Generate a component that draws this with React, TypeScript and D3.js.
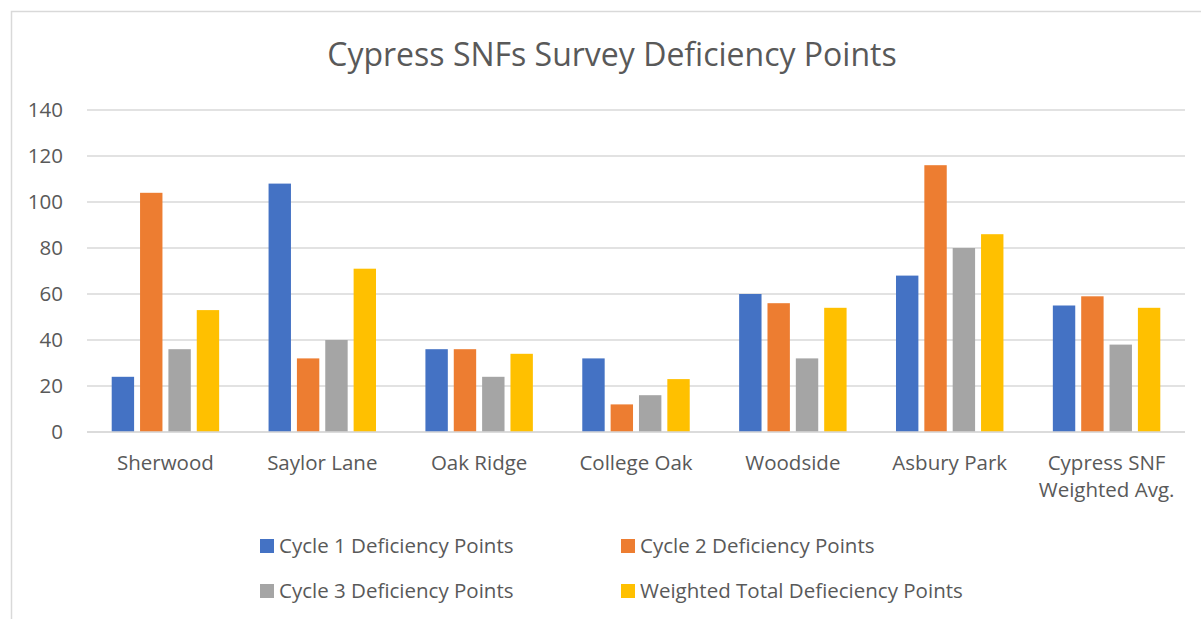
import React, { useEffect, useRef } from 'react';
import * as d3 from 'd3';

const facilities = ['Sherwood', 'Saylor Lane', 'Oak Ridge', 'College Oak', 'Woodside', 'Asbury Park', 'Cypress SNF\nWeighted Avg.'];
const cycle1 = [24, 108, 36, 32, 60, 68, 55];
const cycle2 = [104, 32, 36, 12, 56, 116, 59];
const cycle3 = [36, 40, 24, 16, 32, 80, 38];
const weightedTotal = [53, 71, 34, 23, 54, 86, 54];
const seriesNames = ['Cycle 1 Deficiency Points', 'Cycle 2 Deficiency Points', 'Cycle 3 Deficiency Points', 'Weighted Total Defieciency Points'];
const yTicks = [0, 20, 40, 60, 80, 100, 120, 140];

const colors = ['#4472c4', '#ed7d31', '#a5a5a5', '#ffc000'];
const font = "'Open Sans', sans-serif";
const textColor = '#595959';

export default function App() {
  const ref = useRef<SVGSVGElement>(null);

  useEffect(() => {
    const svg = d3.select(ref.current);
    svg.selectAll('*').remove();
    const W = 1201, H = 619;
    const margin = { top: 110, right: 16, bottom: 187, left: 87 };
    const width = W - margin.left - margin.right;
    const height = H - margin.top - margin.bottom;

    svg.append('rect').attr('x', 0).attr('y', 0).attr('width', W).attr('height', H).attr('fill', '#fff');
    svg.append('path').attr('d', `M11.5,${H} V11.5 H${W}`).attr('fill', 'none').attr('stroke', '#d9d9d9').attr('stroke-width', 1.5);

    svg.append('text').attr('x', 612).attr('y', 66).attr('text-anchor', 'middle')
      .attr('font-family', font).attr('font-size', 32).attr('fill', textColor)
      .text('Cypress SNFs Survey Deficiency Points');

    const g = svg.append('g').attr('transform', `translate(${margin.left},${margin.top})`);

    const x0 = d3.scaleBand<string>().domain(facilities).range([0, width]).paddingInner(0.315).paddingOuter(0.1575);
    const x1 = d3.scaleBand<string>().domain(seriesNames).range([0, x0.bandwidth()]).paddingInner(0.21);
    const y = d3.scaleLinear().domain([0, 140]).range([height, 0]);

    g.selectAll('.grid').data(yTicks).enter().append('line')
      .attr('x1', 0).attr('x2', width)
      .attr('y1', d => y(d)).attr('y2', d => y(d))
      .attr('stroke', '#d9d9d9').attr('stroke-width', 1.5);

    g.selectAll('.ytick').data(yTicks).enter().append('text')
      .attr('x', -24).attr('y', d => y(d)).attr('dy', '0.35em').attr('text-anchor', 'end')
      .attr('font-family', font).attr('font-size', 20.5).attr('fill', textColor)
      .text(d => d);

    const all = [cycle1, cycle2, cycle3, weightedTotal];
    all.forEach((vals, si) => {
      g.selectAll(`.bar${si}`).data(vals).enter().append('rect')
        .attr('x', (d, i) => (x0(facilities[i]) ?? 0) + (x1(seriesNames[si]) ?? 0))
        .attr('y', d => y(d))
        .attr('width', x1.bandwidth())
        .attr('height', d => height - y(d))
        .attr('fill', colors[si]);
    });

    g.append('line').attr('x1', 0).attr('x2', width).attr('y1', height).attr('y2', height)
      .attr('stroke', '#d9d9d9').attr('stroke-width', 1.5);

    facilities.forEach(f => {
      const cx = (x0(f) ?? 0) + x0.bandwidth() / 2;
      const lines = f.split('\n');
      const t = g.append('text').attr('text-anchor', 'middle')
        .attr('font-family', font).attr('font-size', 20.5).attr('fill', textColor);
      lines.forEach((l, li) => {
        t.append('tspan').attr('x', cx).attr('y', height + 38 + li * 27).text(l);
      });
    });

    const legendX = [260, 621];
    const legendY = [546, 591];
    seriesNames.forEach((n, i) => {
      const lx = legendX[i % 2], ly = legendY[Math.floor(i / 2)];
      svg.append('rect').attr('x', lx).attr('y', ly - 7).attr('width', 14).attr('height', 14).attr('fill', colors[i]);
      svg.append('text').attr('x', lx + 19).attr('y', ly).attr('dy', '0.35em')
        .attr('font-family', font).attr('font-size', 20.5).attr('fill', textColor).text(n);
    });
  }, []);

  return <svg ref={ref} width={1201} height={619} style={{ display: 'block', position: 'absolute', left: 0, top: 0 }} />;
}
